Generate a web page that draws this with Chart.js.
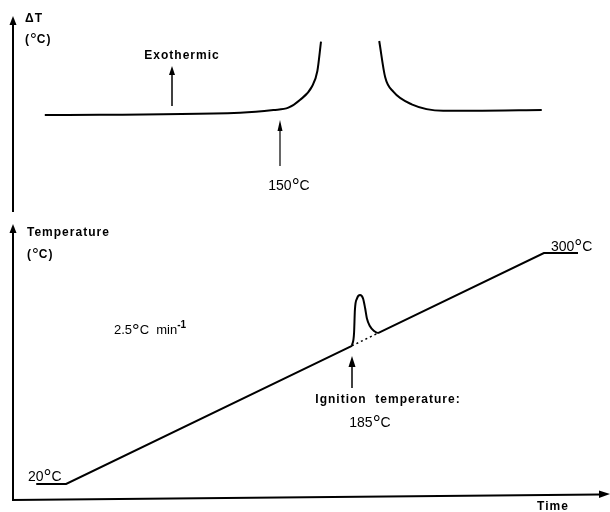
<!DOCTYPE html>
<html><head><meta charset="utf-8">
<script src="https://cdn.jsdelivr.net/npm/chart.js@4.4.0/dist/chart.umd.min.js"></script>
<style>html,body{margin:0;padding:0;background:#fff}canvas{display:block}</style>
</head><body>
<canvas id="c" width="610" height="512"></canvas>
<script>
// ---- Heating programme: time (min) vs furnace temperature (°C), 2.5 °C/min ----
const rampTimeA = [0.5, 7.5, 74.5];
const rampTempA = [20, 20, 187.5];
const rampTimeB = [80.6, 119.5, 127.5];
const rampTempB = [202.8, 300, 300];
// extrapolated (dotted) baseline under the ignition peak
const extrapTime = [74.5, 80.6];
const extrapTemp = [187.5, 202.8];
// ignition peak on the sample temperature
const peakTime = [74.5, 75.0, 75.2, 75.7, 76.4, 77.1, 77.6, 78.0, 78.7, 79.7, 80.6];
const peakTemp = [187.5, 203, 231, 245, 249, 245, 233, 221, 211.5, 205.4, 202.8];

// ---- DTA trace: time (min) vs ΔT (arbitrary units) ----
const dtaTimeA = [2.5, 48.3, 56.1, 59.6, 62.3, 65.1, 66.4, 67.25];
const dtaA     = [-0.5, 0.65, 2, 3.15, 7, 13.65, 21.5, 36.15];
const dtaTimeB = [80.9, 82.3, 84.2, 88.5, 95.9, 103, 119];
const dtaB     = [36.5, 18.35, 11.15, 4.85, 1.65, 1.65, 2];

// ---- annotation times (min) ----
const exoArrowTime = 32.3;
const onsetTime = 57.6;      // 150 °C
const ignitionTime = 74.5;   // 185 °C

const pts = (xs, ys) => xs.map((x, i) => ({x, y: ys[i]}));
const line = (data, axis, extra) => Object.assign({
  data, yAxisID: axis, borderColor: '#000', borderWidth: 2,
  pointRadius: 0, fill: false, tension: 0
}, extra || {});

const BOLD = 'bold 12px "Liberation Sans", Arial, sans-serif';
const REG = '14px "Liberation Sans", Arial, sans-serif';

function drawParts(ctx, x, y, parts, align) {
  let w = 0;
  parts.forEach(p => { ctx.font = p.font; ctx.letterSpacing = p.ls || '0px'; p.w = ctx.measureText(p.t).width; w += p.w; });
  let cx = align === 'center' ? x - w / 2 : x;
  ctx.textAlign = 'left'; ctx.textBaseline = 'alphabetic';
  parts.forEach(p => { ctx.font = p.font; ctx.letterSpacing = p.ls || '0px'; ctx.fillText(p.t, cx, y + (p.dy || 0)); cx += p.w; });
  ctx.letterSpacing = '0px';
}
function degParts(before, after, size, bold) {
  const f = (bold ? 'bold ' : '') + size + 'px "Liberation Sans", Arial, sans-serif';
  const fd = Math.round(size * 1.45) + 'px "Liberation Sans", Arial, sans-serif';
  return [{t: before, font: f, ls: bold ? '1px' : '0px'}, {t: '°', font: fd, dy: Math.round(size * 0.2)}, {t: after, font: f, ls: bold ? '1px' : '0px'}];
}
function arrowUp(ctx, x, yBottom, yTip, len, hw, lw) {
  ctx.beginPath(); ctx.lineWidth = lw; ctx.moveTo(x, yBottom); ctx.lineTo(x, yTip + len - 1); ctx.stroke();
  ctx.beginPath(); ctx.moveTo(x, yTip); ctx.lineTo(x - hw, yTip + len); ctx.lineTo(x + hw, yTip + len); ctx.closePath(); ctx.fill();
}

const decor = {
  id: 'decor',
  afterDraw(chart) {
    const ctx = chart.ctx, xs = chart.scales.x;
    ctx.save();
    ctx.strokeStyle = '#000'; ctx.fillStyle = '#000'; ctx.lineCap = 'butt';
    // axes
    arrowUp(ctx, 13, 212, 16, 9, 3.5, 2);
    arrowUp(ctx, 13, 501, 224, 9, 3.5, 2);
    ctx.beginPath(); ctx.lineWidth = 2; ctx.moveTo(12, 500); ctx.lineTo(600, 494.5); ctx.stroke();
    ctx.beginPath(); ctx.moveTo(610, 494); ctx.lineTo(599, 490.5); ctx.lineTo(599, 498); ctx.closePath(); ctx.fill();

    // top panel labels
    drawParts(ctx, 25, 22, [{t: 'ΔT', font: BOLD, ls: '1px'}]);
    drawParts(ctx, 25, 43, degParts('(', 'C)', 12, true));
    drawParts(ctx, 182, 59, [{t: 'Exothermic', font: BOLD, ls: '1px'}], 'center');
    arrowUp(ctx, Math.round(xs.getPixelForValue(exoArrowTime)), 106, 66, 9, 3, 1.5);
    arrowUp(ctx, Math.round(xs.getPixelForValue(onsetTime)), 166, 120, 11, 2.5, 1.2);
    drawParts(ctx, 289, 190, degParts('150', 'C', 14, false), 'center');

    // bottom panel labels
    drawParts(ctx, 27, 236, [{t: 'Temperature', font: BOLD, ls: '1px'}]);
    drawParts(ctx, 27, 258, degParts('(', 'C)', 12, true));
    drawParts(ctx, 114, 334, degParts('2.5', 'C  min', 13, false).concat([{t: '-1', font: 'bold 10px "Liberation Sans", Arial, sans-serif', dy: -6}]));
    drawParts(ctx, 551, 251, degParts('300', 'C', 14, false));
    drawParts(ctx, 28, 481, degParts('20', 'C', 14, false));
    arrowUp(ctx, Math.round(xs.getPixelForValue(ignitionTime)), 388, 356, 11, 3.5, 1.5);
    drawParts(ctx, 388, 403, [{t: 'Ignition  temperature:', font: BOLD, ls: '1px'}], 'center');
    drawParts(ctx, 370, 427, degParts('185', 'C', 14, false), 'center');
    drawParts(ctx, 553, 510, [{t: 'Time', font: BOLD, ls: '1px'}], 'center');
    ctx.restore();
  }
};

new Chart(document.getElementById('c'), {
  type: 'line',
  data: {
    datasets: [
      line(pts(rampTimeA, rampTempA), 'yT'),
      line(pts(rampTimeB, rampTempB), 'yT'),
      line(pts(extrapTime, extrapTemp), 'yT', {borderWidth: 1.5, borderDash: [2, 3]}),
      line(pts(peakTime, peakTemp), 'yT', {cubicInterpolationMode: 'monotone'}),
      line(pts(dtaTimeA, dtaA), 'yD', {cubicInterpolationMode: 'monotone'}),
      line(pts(dtaTimeB, dtaB), 'yD', {cubicInterpolationMode: 'monotone'})
    ]
  },
  options: {
    responsive: false, animation: false, events: [],
    layout: {padding: 0, autoPadding: false},
    plugins: {legend: {display: false}, tooltip: {enabled: false}},
    scales: {
      x: {type: 'linear', min: -8, max: 135, display: false},
      yT: {type: 'linear', min: -14, max: 606.7, display: false},
      yD: {type: 'linear', min: -199, max: 57, display: false}
    }
  },
  plugins: [decor]
});
</script>
</body></html>
